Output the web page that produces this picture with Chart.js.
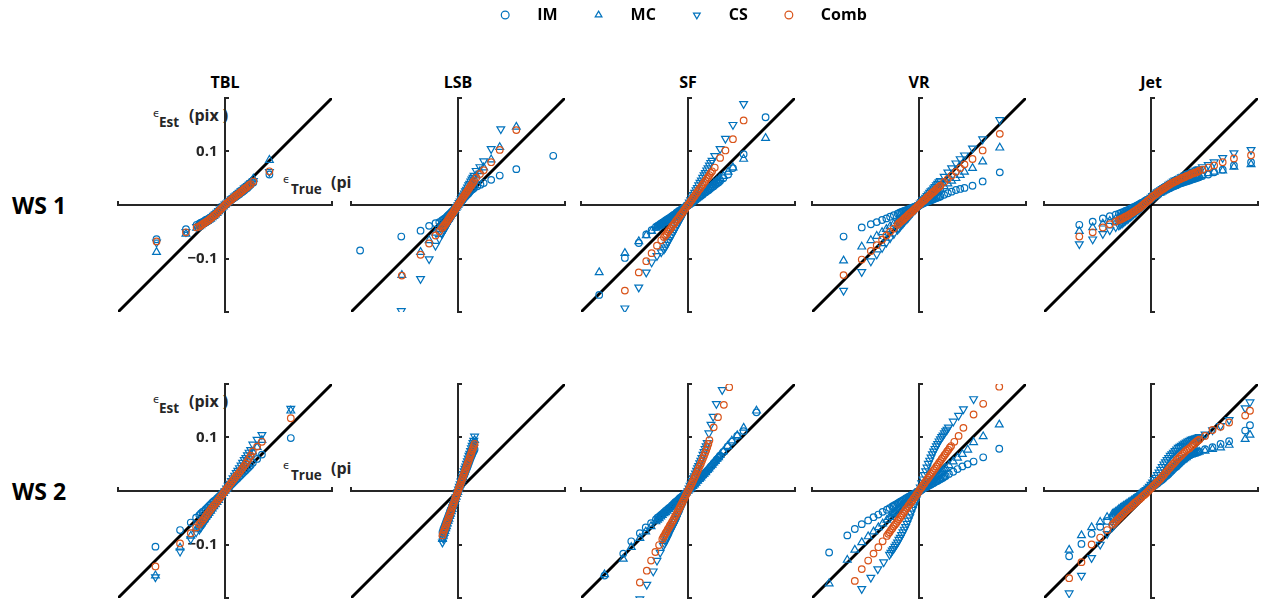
<!DOCTYPE html>
<html>
<head>
<meta charset="utf-8">
<title>Estimated vs. true error quantiles</title>
<script src="https://cdn.jsdelivr.net/npm/chart.js"></script>
<style>
html,body{margin:0;padding:0;background:#fff;}
#fig{position:relative;width:1262px;height:609px;overflow:hidden;background:#fff;font-family:'Open Sans',sans-serif;}
#fig canvas{position:absolute;}
.t{position:absolute;white-space:nowrap;line-height:1;}
.title{font-size:16px;font-weight:700;color:#000;transform:translateX(-50%);}
.row{font-size:23px;font-weight:700;color:#000;}
.eps{font-family:'DejaVu Sans',sans-serif;font-size:11px;color:#262626;}
.sub{font-size:13.5px;font-weight:700;color:#262626;}
.unit{font-size:16px;font-weight:700;color:#262626;}
.unit .close{margin-left:4px;}
.clip{position:absolute;overflow:hidden;height:30px;}
</style>
</head>
<body>
<div id="fig"></div>
<script>
// ---------------- data ----------------
const SERIES_NAMES = ['IM', 'MC', 'CS', 'Comb'];
const PANEL_TITLES = ['TBL', 'LSB', 'SF', 'VR', 'Jet'];
const ROW_LABELS = ['WS 1', 'WS 2'];
const AXIS_RANGE = [-0.2, 0.2];
const X_TICKS = [-0.2, 0.2];
const Y_TICKS = [-0.2, -0.1, 0.1, 0.2];
const Y_TICK_VALUES = [-0.1, 0.1];
const Y_TICK_LABELS = ['\u22120.1', '0.1'];

// ===== WS 1 / TBL =====
const tbl1X = [
  -0.128,-0.073,-0.053,-0.048,-0.045,-0.042,-0.039,-0.036,-0.033,-0.030,
  -0.027,-0.024,-0.021,-0.018,-0.015,-0.012,-0.009,-0.006,-0.003,0.000,
  0.003,0.006,0.009,0.012,0.015,0.018,0.021,0.024,0.027,0.030,
  0.033,0.036,0.039,0.042,0.045,0.048,0.053,0.083];
const tbl1Comb = [
  -0.068,-0.051,-0.042,-0.040,-0.038,-0.036,-0.034,-0.032,-0.030,-0.028,
  -0.025,-0.023,-0.020,-0.018,-0.015,-0.012,-0.009,-0.006,-0.003,0.000,
  0.003,0.005,0.008,0.010,0.013,0.015,0.018,0.020,0.022,0.025,
  0.027,0.030,0.032,0.034,0.037,0.039,0.044,0.063];
const tbl1IM = [
  -0.064,-0.045,-0.037,-0.035,-0.033,-0.032,-0.030,-0.028,-0.027,-0.025,
  -0.023,-0.021,-0.019,-0.016,-0.014,-0.011,-0.008,-0.006,-0.003,0.000,
  0.002,0.005,0.007,0.010,0.012,0.014,0.016,0.018,0.020,0.023,
  0.025,0.027,0.030,0.032,0.035,0.038,0.042,0.057];
const tbl1MC = [
  -0.088,-0.054,-0.043,-0.040,-0.038,-0.036,-0.034,-0.032,-0.030,-0.028,
  -0.026,-0.023,-0.021,-0.018,-0.015,-0.012,-0.009,-0.006,-0.003,0.000,
  0.003,0.006,0.009,0.011,0.014,0.017,0.019,0.022,0.024,0.027,
  0.029,0.032,0.034,0.037,0.039,0.042,0.049,0.084];
const tbl1CS = [
  -0.070,-0.050,-0.041,-0.039,-0.037,-0.035,-0.033,-0.031,-0.029,-0.027,
  -0.025,-0.022,-0.020,-0.017,-0.014,-0.011,-0.008,-0.005,-0.002,0.001,
  0.003,0.006,0.008,0.011,0.013,0.016,0.018,0.021,0.023,0.026,
  0.028,0.031,0.033,0.036,0.038,0.041,0.045,0.062];

// ===== WS 1 / LSB =====
const lsb1XIM = [
  -0.183,-0.106,-0.070,-0.054,-0.042,-0.035,-0.030,-0.028,-0.026,-0.024,
  -0.022,-0.020,-0.018,-0.016,-0.014,-0.012,-0.010,-0.008,-0.006,-0.004,
  -0.002,0.000,0.002,0.004,0.006,0.008,0.010,0.012,0.014,0.016,
  0.018,0.020,0.022,0.024,0.026,0.028,0.030,0.036,0.042,0.048,
  0.062,0.078,0.109,0.178];
const lsb1IM = [
  -0.085,-0.059,-0.048,-0.039,-0.034,-0.032,-0.029,-0.028,-0.026,-0.025,
  -0.023,-0.021,-0.019,-0.017,-0.015,-0.013,-0.011,-0.009,-0.006,-0.004,
  -0.002,0.000,0.002,0.005,0.007,0.009,0.011,0.014,0.016,0.018,
  0.020,0.022,0.025,0.027,0.029,0.030,0.032,0.035,0.038,0.041,
  0.047,0.055,0.067,0.092];
const lsb1X = [
  -0.105,-0.070,-0.054,-0.042,-0.035,-0.030,-0.028,-0.026,-0.024,-0.022,
  -0.020,-0.018,-0.016,-0.014,-0.012,-0.010,-0.008,-0.006,-0.004,-0.002,
  0.000,0.002,0.004,0.006,0.008,0.010,0.012,0.014,0.016,0.018,
  0.020,0.022,0.024,0.026,0.028,0.030,0.034,0.041,0.048,0.062,
  0.078,0.109];
const lsb1Comb = [
  -0.132,-0.093,-0.072,-0.057,-0.049,-0.043,-0.041,-0.038,-0.036,-0.033,
  -0.030,-0.027,-0.024,-0.021,-0.018,-0.015,-0.012,-0.009,-0.006,-0.003,
  0.000,0.003,0.006,0.009,0.012,0.015,0.018,0.021,0.024,0.027,
  0.030,0.033,0.036,0.039,0.042,0.045,0.051,0.058,0.065,0.080,
  0.103,0.140];
const lsb1MC = [
  -0.131,-0.088,-0.066,-0.052,-0.045,-0.041,-0.039,-0.036,-0.034,-0.031,
  -0.028,-0.026,-0.023,-0.020,-0.017,-0.015,-0.012,-0.009,-0.006,-0.003,
  0.000,0.003,0.006,0.010,0.013,0.016,0.019,0.022,0.026,0.029,
  0.032,0.036,0.039,0.042,0.045,0.049,0.055,0.063,0.070,0.085,
  0.108,0.146];
const lsb1XCS = [
  -0.106,-0.070,-0.054,-0.042,-0.035,-0.030,-0.028,-0.026,-0.024,-0.022,
  -0.020,-0.018,-0.016,-0.014,-0.012,-0.010,-0.008,-0.006,-0.004,-0.002,
  0.000,0.002,0.004,0.006,0.008,0.010,0.012,0.014,0.016,0.018,
  0.020,0.022,0.024,0.026,0.028,0.030,0.034,0.041,0.048,0.062,
  0.080];
const lsb1CS = [
  -0.198,-0.138,-0.101,-0.076,-0.063,-0.054,-0.050,-0.047,-0.043,-0.040,
  -0.036,-0.032,-0.029,-0.025,-0.022,-0.018,-0.014,-0.011,-0.007,-0.004,
  0.000,0.004,0.007,0.011,0.015,0.018,0.022,0.026,0.029,0.033,
  0.037,0.040,0.044,0.048,0.051,0.055,0.064,0.071,0.082,0.105,
  0.142];

// ===== WS 1 / SF =====
const sf1XA = [
  -0.166,-0.118,-0.092,-0.078,-0.068,-0.060,-0.057,-0.054,-0.051,-0.048,
  -0.045,-0.042,-0.039,-0.036,-0.033,-0.030,-0.027,-0.024,-0.021,-0.018,
  -0.015,-0.012,-0.009,-0.006,-0.003,0.000,0.003,0.006,0.009,0.012,
  0.015,0.018,0.021,0.024,0.027,0.030,0.033,0.036,0.039,0.042,
  0.045,0.048,0.051,0.054,0.057,0.060,0.066,0.075,0.084,0.104,
  0.145];
const sf1IM = [
  -0.168,-0.099,-0.071,-0.055,-0.047,-0.041,-0.039,-0.037,-0.035,-0.033,
  -0.031,-0.029,-0.027,-0.025,-0.023,-0.021,-0.019,-0.017,-0.014,-0.012,
  -0.010,-0.008,-0.006,-0.004,-0.002,0.000,0.002,0.004,0.006,0.008,
  0.010,0.013,0.015,0.017,0.019,0.022,0.024,0.026,0.028,0.031,
  0.033,0.035,0.038,0.040,0.042,0.045,0.050,0.057,0.069,0.095,
  0.164];
const sf1MC = [
  -0.126,-0.090,-0.068,-0.057,-0.049,-0.043,-0.041,-0.039,-0.037,-0.035,
  -0.033,-0.031,-0.029,-0.027,-0.024,-0.022,-0.020,-0.018,-0.015,-0.013,
  -0.011,-0.009,-0.007,-0.004,-0.002,0.000,0.002,0.005,0.007,0.010,
  0.012,0.014,0.017,0.019,0.022,0.024,0.027,0.029,0.032,0.034,
  0.037,0.040,0.042,0.045,0.047,0.050,0.054,0.062,0.070,0.086,
  0.125];
const sf1XB = [
  -0.118,-0.092,-0.078,-0.068,-0.058,-0.050,-0.045,-0.0425,-0.040,-0.0375,
  -0.035,-0.0325,-0.030,-0.0275,-0.025,-0.0225,-0.020,-0.0175,-0.015,-0.0125,
  -0.010,-0.0075,-0.005,-0.0025,0.000,0.0025,0.005,0.0075,0.010,0.0125,
  0.015,0.0175,0.020,0.0225,0.025,0.0275,0.030,0.0325,0.035,0.0375,
  0.040,0.0425,0.045,0.050,0.060,0.070,0.084,0.104];
const sf1Comb = [
  -0.160,-0.126,-0.105,-0.090,-0.076,-0.066,-0.060,-0.057,-0.054,-0.050,
  -0.047,-0.044,-0.040,-0.037,-0.034,-0.030,-0.027,-0.024,-0.020,-0.017,
  -0.014,-0.010,-0.007,-0.003,0.000,0.003,0.007,0.010,0.014,0.017,
  0.021,0.024,0.028,0.031,0.035,0.038,0.042,0.045,0.049,0.052,
  0.056,0.060,0.063,0.070,0.088,0.102,0.123,0.158];
const sf1CS = [
  -0.193,-0.154,-0.126,-0.107,-0.095,-0.088,-0.083,-0.079,-0.074,-0.069,
  -0.065,-0.060,-0.056,-0.051,-0.046,-0.042,-0.037,-0.032,-0.028,-0.023,
  -0.019,-0.014,-0.009,-0.005,0.000,0.005,0.009,0.014,0.019,0.023,
  0.028,0.032,0.037,0.042,0.046,0.051,0.056,0.060,0.065,0.069,
  0.074,0.079,0.083,0.092,0.105,0.124,0.150,0.189];

// ===== WS 1 / VR =====
const vr1X = [
  -0.141,-0.107,-0.090,-0.079,-0.069,-0.061,-0.054,-0.047,-0.040,-0.0375,
  -0.035,-0.0325,-0.030,-0.0275,-0.025,-0.0225,-0.020,-0.0175,-0.015,-0.0125,
  -0.010,-0.0075,-0.005,-0.0025,0.000,0.0025,0.005,0.0075,0.010,0.0125,
  0.015,0.0175,0.020,0.0225,0.025,0.0275,0.030,0.0325,0.035,0.0375,
  0.040,0.047,0.054,0.061,0.069,0.077,0.085,0.100,0.119,0.151];
const vr1IM = [
  -0.059,-0.042,-0.036,-0.032,-0.028,-0.025,-0.022,-0.019,-0.016,-0.015,
  -0.014,-0.013,-0.012,-0.011,-0.010,-0.009,-0.008,-0.007,-0.006,-0.005,
  -0.004,-0.003,-0.002,-0.001,0.000,0.001,0.002,0.003,0.004,0.005,
  0.006,0.007,0.008,0.009,0.010,0.011,0.012,0.013,0.014,0.015,
  0.016,0.019,0.022,0.025,0.028,0.030,0.032,0.036,0.044,0.061];
const vr1MC = [
  -0.104,-0.078,-0.066,-0.058,-0.051,-0.045,-0.040,-0.035,-0.030,-0.028,
  -0.026,-0.024,-0.022,-0.020,-0.018,-0.017,-0.015,-0.013,-0.011,-0.009,
  -0.007,-0.006,-0.004,-0.002,0.000,0.002,0.004,0.006,0.007,0.009,
  0.011,0.013,0.015,0.017,0.018,0.020,0.022,0.024,0.026,0.028,
  0.030,0.035,0.040,0.045,0.050,0.056,0.062,0.069,0.081,0.107];
const vr1Comb = [
  -0.131,-0.102,-0.086,-0.075,-0.065,-0.057,-0.050,-0.044,-0.037,-0.034,
  -0.032,-0.030,-0.028,-0.025,-0.023,-0.021,-0.018,-0.016,-0.014,-0.012,
  -0.009,-0.007,-0.005,-0.002,0.000,0.002,0.005,0.007,0.009,0.011,
  0.014,0.016,0.018,0.021,0.023,0.025,0.027,0.030,0.032,0.034,
  0.036,0.043,0.049,0.055,0.062,0.069,0.076,0.086,0.102,0.133];
const vr1CS = [
  -0.160,-0.125,-0.105,-0.092,-0.080,-0.070,-0.062,-0.054,-0.046,-0.043,
  -0.040,-0.037,-0.034,-0.031,-0.028,-0.026,-0.023,-0.020,-0.017,-0.014,
  -0.011,-0.009,-0.006,-0.003,0.000,0.003,0.006,0.009,0.011,0.014,
  0.017,0.020,0.023,0.026,0.028,0.031,0.034,0.037,0.040,0.043,
  0.045,0.053,0.061,0.069,0.078,0.086,0.093,0.106,0.123,0.159];

// ===== WS 1 / Jet =====
const jet1X = [
  -0.134,-0.109,-0.090,-0.077,-0.066,-0.060,-0.057,-0.054,-0.051,-0.048,
  -0.045,-0.042,-0.039,-0.036,-0.033,-0.030,-0.027,-0.024,-0.021,-0.018,
  -0.015,-0.012,-0.009,-0.006,-0.003,0.000,0.003,0.006,0.009,0.012,
  0.015,0.018,0.021,0.024,0.027,0.030,0.033,0.036,0.039,0.042,
  0.045,0.048,0.051,0.054,0.057,0.060,0.063,0.066,0.069,0.072,
  0.075,0.078,0.081,0.084,0.087,0.090,0.096,0.107,0.118,0.134,
  0.155,0.187];
const jet1Comb = [
  -0.059,-0.051,-0.042,-0.036,-0.031,-0.028,-0.027,-0.025,-0.024,-0.022,
  -0.021,-0.019,-0.017,-0.015,-0.013,-0.011,-0.009,-0.007,-0.005,-0.002,
  0.000,0.003,0.005,0.008,0.010,0.013,0.016,0.018,0.020,0.023,
  0.025,0.027,0.029,0.031,0.033,0.035,0.037,0.039,0.041,0.042,
  0.044,0.045,0.047,0.048,0.050,0.051,0.052,0.054,0.055,0.056,
  0.058,0.059,0.060,0.061,0.062,0.064,0.066,0.070,0.074,0.080,
  0.087,0.093];
const jet1IM = [
  -0.037,-0.031,-0.025,-0.021,-0.018,-0.016,-0.015,-0.014,-0.013,-0.011,
  -0.010,-0.009,-0.007,-0.006,-0.004,-0.003,-0.001,0.000,0.002,0.004,
  0.005,0.007,0.009,0.010,0.012,0.014,0.016,0.018,0.019,0.021,
  0.022,0.024,0.025,0.027,0.028,0.030,0.031,0.032,0.034,0.035,
  0.036,0.037,0.039,0.040,0.041,0.042,0.043,0.044,0.045,0.046,
  0.047,0.048,0.049,0.050,0.051,0.052,0.054,0.057,0.061,0.066,
  0.074,0.080];
const jet1MC = [
  -0.049,-0.042,-0.035,-0.030,-0.026,-0.024,-0.022,-0.021,-0.019,-0.018,
  -0.016,-0.015,-0.013,-0.011,-0.009,-0.008,-0.006,-0.004,-0.002,0.000,
  0.002,0.004,0.006,0.008,0.010,0.012,0.014,0.016,0.018,0.020,
  0.022,0.023,0.025,0.027,0.028,0.030,0.032,0.033,0.035,0.036,
  0.038,0.039,0.040,0.042,0.043,0.044,0.045,0.046,0.047,0.048,
  0.049,0.050,0.051,0.052,0.053,0.054,0.056,0.059,0.062,0.064,
  0.071,0.076];
const jet1CS = [
  -0.073,-0.064,-0.054,-0.047,-0.041,-0.038,-0.036,-0.034,-0.032,-0.029,
  -0.027,-0.025,-0.022,-0.020,-0.017,-0.015,-0.012,-0.009,-0.007,-0.004,
  -0.001,0.002,0.005,0.008,0.011,0.014,0.017,0.019,0.022,0.024,
  0.026,0.028,0.030,0.032,0.034,0.036,0.038,0.040,0.042,0.044,
  0.046,0.047,0.049,0.050,0.052,0.053,0.055,0.056,0.058,0.059,
  0.060,0.062,0.063,0.065,0.066,0.067,0.071,0.075,0.080,0.088,
  0.097,0.103];

// ===== WS 2 / TBL =====
const tbl2X = [
  -0.130,-0.084,-0.064,-0.054,-0.048,-0.045,-0.042,-0.039,-0.036,-0.033,
  -0.030,-0.027,-0.024,-0.021,-0.018,-0.015,-0.012,-0.009,-0.006,-0.003,
  0.000,0.003,0.006,0.009,0.012,0.015,0.018,0.021,0.024,0.027,
  0.030,0.033,0.036,0.039,0.042,0.045,0.048,0.052,0.060,0.069,
  0.123];
const tbl2Comb = [
  -0.141,-0.098,-0.079,-0.068,-0.062,-0.058,-0.055,-0.051,-0.047,-0.043,
  -0.039,-0.035,-0.031,-0.027,-0.024,-0.020,-0.016,-0.012,-0.008,-0.004,
  0.000,0.004,0.008,0.012,0.016,0.020,0.024,0.028,0.031,0.035,
  0.039,0.043,0.047,0.051,0.056,0.061,0.066,0.074,0.083,0.092,
  0.136];
const tbl2IM = [
  -0.104,-0.073,-0.059,-0.050,-0.045,-0.042,-0.039,-0.037,-0.034,-0.031,
  -0.028,-0.025,-0.022,-0.019,-0.017,-0.014,-0.011,-0.008,-0.005,-0.002,
  0.000,0.003,0.006,0.009,0.012,0.015,0.018,0.021,0.024,0.027,
  0.030,0.033,0.036,0.039,0.042,0.045,0.048,0.053,0.060,0.068,
  0.099];
const tbl2MC = [
  -0.158,-0.106,-0.084,-0.072,-0.065,-0.061,-0.057,-0.053,-0.049,-0.045,
  -0.041,-0.037,-0.033,-0.029,-0.025,-0.021,-0.017,-0.012,-0.008,-0.004,
  0.000,0.004,0.008,0.013,0.017,0.021,0.025,0.029,0.034,0.038,
  0.042,0.046,0.050,0.055,0.059,0.064,0.068,0.073,0.082,0.095,
  0.150];
const tbl2CS = [
  -0.161,-0.113,-0.090,-0.077,-0.072,-0.068,-0.063,-0.059,-0.054,-0.050,
  -0.045,-0.041,-0.036,-0.032,-0.027,-0.023,-0.018,-0.014,-0.009,-0.005,
  0.000,0.005,0.010,0.014,0.019,0.024,0.029,0.034,0.038,0.043,
  0.048,0.053,0.058,0.062,0.067,0.072,0.077,0.087,0.096,0.105,
  0.154];

// ===== WS 2 / LSB =====
const lsb2X = [
  -0.029,-0.0275,-0.026,-0.0245,-0.023,-0.0215,-0.020,-0.0185,-0.017,-0.0155,
  -0.014,-0.0125,-0.011,-0.0095,-0.008,-0.0065,-0.005,-0.0035,-0.002,-0.0005,
  0.001,0.0025,0.004,0.0055,0.007,0.0085,0.010,0.0115,0.013,0.0145,
  0.016,0.0175,0.019,0.0205,0.022,0.0235,0.025,0.0265,0.028,0.0295,
  0.031];
const lsb2Comb = [
  -0.083,-0.078,-0.074,-0.070,-0.066,-0.061,-0.057,-0.053,-0.048,-0.044,
  -0.040,-0.036,-0.031,-0.027,-0.023,-0.019,-0.014,-0.010,-0.006,-0.001,
  0.003,0.007,0.011,0.016,0.020,0.024,0.029,0.033,0.037,0.041,
  0.046,0.050,0.054,0.058,0.063,0.067,0.071,0.076,0.080,0.084,
  0.088];
const lsb2IM = [
  -0.077,-0.072,-0.068,-0.064,-0.060,-0.056,-0.052,-0.048,-0.044,-0.040,
  -0.036,-0.033,-0.029,-0.025,-0.021,-0.017,-0.013,-0.009,-0.005,-0.001,
  0.003,0.007,0.010,0.014,0.018,0.022,0.026,0.030,0.034,0.038,
  0.042,0.045,0.049,0.053,0.057,0.061,0.065,0.068,0.072,0.075,
  0.078];
const lsb2MC = [
  -0.090,-0.084,-0.079,-0.075,-0.070,-0.066,-0.061,-0.056,-0.052,-0.047,
  -0.043,-0.038,-0.034,-0.029,-0.024,-0.020,-0.015,-0.011,-0.006,-0.002,
  0.003,0.008,0.012,0.017,0.021,0.026,0.031,0.035,0.040,0.044,
  0.049,0.053,0.058,0.063,0.067,0.072,0.076,0.081,0.085,0.090,
  0.095];
const lsb2CS = [
  -0.096,-0.089,-0.084,-0.079,-0.074,-0.069,-0.064,-0.059,-0.054,-0.050,
  -0.045,-0.040,-0.035,-0.030,-0.026,-0.021,-0.016,-0.011,-0.006,-0.002,
  0.003,0.008,0.013,0.018,0.022,0.027,0.032,0.037,0.042,0.046,
  0.051,0.056,0.061,0.066,0.070,0.075,0.080,0.085,0.090,0.094,
  0.102];

// ===== WS 2 / SF =====
const sf2XA = [
  -0.156,-0.121,-0.106,-0.090,-0.079,-0.069,-0.060,-0.057,-0.054,-0.051,
  -0.048,-0.045,-0.042,-0.039,-0.036,-0.033,-0.030,-0.027,-0.024,-0.021,
  -0.018,-0.015,-0.012,-0.009,-0.006,-0.003,0.000,0.003,0.006,0.009,
  0.012,0.015,0.018,0.021,0.024,0.027,0.030,0.033,0.036,0.039,
  0.042,0.045,0.048,0.051,0.054,0.057,0.060,0.066,0.074,0.082,
  0.092,0.104,0.128];
const sf2IM = [
  -0.158,-0.117,-0.094,-0.079,-0.068,-0.060,-0.053,-0.050,-0.048,-0.045,
  -0.043,-0.040,-0.037,-0.035,-0.032,-0.030,-0.027,-0.024,-0.021,-0.019,
  -0.016,-0.013,-0.011,-0.008,-0.005,-0.003,0.000,0.003,0.006,0.009,
  0.012,0.015,0.019,0.022,0.025,0.028,0.031,0.035,0.038,0.041,
  0.045,0.048,0.052,0.055,0.059,0.062,0.066,0.073,0.083,0.092,
  0.103,0.112,0.147];
const sf2MC = [
  -0.156,-0.127,-0.105,-0.088,-0.076,-0.066,-0.057,-0.054,-0.051,-0.048,
  -0.045,-0.042,-0.040,-0.037,-0.034,-0.031,-0.028,-0.025,-0.022,-0.019,
  -0.017,-0.014,-0.011,-0.008,-0.005,-0.003,0.000,0.003,0.006,0.009,
  0.012,0.015,0.019,0.022,0.025,0.029,0.032,0.035,0.039,0.042,
  0.046,0.049,0.053,0.056,0.060,0.063,0.067,0.074,0.084,0.094,
  0.104,0.118,0.150];
const sf2XComb = [
  -0.090,-0.077,-0.069,-0.061,-0.054,-0.048,-0.046,-0.044,-0.042,-0.040,
  -0.038,-0.036,-0.034,-0.032,-0.030,-0.028,-0.026,-0.024,-0.022,-0.020,
  -0.018,-0.016,-0.014,-0.012,-0.010,-0.008,-0.006,-0.004,-0.002,0.000,
  0.002,0.004,0.006,0.008,0.010,0.012,0.014,0.016,0.018,0.020,
  0.022,0.024,0.026,0.028,0.030,0.032,0.034,0.036,0.038,0.040,
  0.048,0.056,0.067,0.077];
const sf2Comb = [
  -0.171,-0.149,-0.130,-0.114,-0.101,-0.090,-0.086,-0.083,-0.079,-0.076,
  -0.072,-0.069,-0.065,-0.062,-0.058,-0.055,-0.051,-0.047,-0.044,-0.040,
  -0.036,-0.032,-0.028,-0.024,-0.020,-0.016,-0.012,-0.008,-0.004,0.000,
  0.004,0.008,0.012,0.016,0.020,0.025,0.029,0.033,0.038,0.042,
  0.047,0.051,0.056,0.061,0.066,0.071,0.076,0.082,0.088,0.095,
  0.119,0.138,0.161,0.194];
const sf2XCS = [
  -0.090,-0.077,-0.065,-0.058,-0.052,-0.046,-0.044,-0.042,-0.040,-0.038,
  -0.036,-0.034,-0.032,-0.030,-0.028,-0.026,-0.024,-0.022,-0.020,-0.018,
  -0.016,-0.014,-0.012,-0.010,-0.008,-0.006,-0.004,-0.002,0.000,0.002,
  0.004,0.006,0.008,0.010,0.012,0.014,0.016,0.018,0.020,0.022,
  0.024,0.026,0.028,0.030,0.032,0.034,0.036,0.039,0.043,0.047,
  0.053,0.064];
const sf2CS = [
  -0.202,-0.175,-0.150,-0.130,-0.115,-0.102,-0.098,-0.094,-0.090,-0.086,
  -0.081,-0.077,-0.073,-0.069,-0.065,-0.061,-0.057,-0.052,-0.047,-0.043,
  -0.038,-0.033,-0.029,-0.024,-0.019,-0.014,-0.010,-0.005,0.000,0.005,
  0.010,0.014,0.019,0.024,0.028,0.033,0.038,0.043,0.047,0.052,
  0.057,0.062,0.068,0.073,0.079,0.084,0.090,0.108,0.124,0.139,
  0.163,0.189];

// ===== WS 2 / VR =====
const vr2XA = [
  -0.168,-0.134,-0.120,-0.107,-0.095,-0.085,-0.076,-0.068,-0.060,-0.055,
  -0.050,-0.0475,-0.045,-0.0425,-0.040,-0.0375,-0.035,-0.0325,-0.030,-0.0275,
  -0.025,-0.0225,-0.020,-0.0175,-0.015,-0.0125,-0.010,-0.0075,-0.005,-0.0025,
  0.000,0.0025,0.005,0.0075,0.010,0.0125,0.015,0.0175,0.020,0.0225,
  0.025,0.0275,0.030,0.0325,0.035,0.0375,0.040,0.0425,0.045,0.0475,
  0.050,0.056,0.064,0.072,0.081,0.091,0.102,0.120,0.150];
const vr2IM = [
  -0.115,-0.083,-0.071,-0.062,-0.055,-0.049,-0.044,-0.039,-0.035,-0.032,
  -0.029,-0.028,-0.026,-0.025,-0.023,-0.022,-0.020,-0.019,-0.017,-0.016,
  -0.014,-0.013,-0.011,-0.010,-0.008,-0.007,-0.006,-0.004,-0.003,-0.001,
  0.000,0.001,0.003,0.004,0.006,0.007,0.008,0.010,0.011,0.012,
  0.014,0.015,0.017,0.018,0.019,0.021,0.022,0.024,0.025,0.027,
  0.028,0.032,0.036,0.041,0.046,0.050,0.055,0.063,0.079];
const vr2MC = [
  -0.173,-0.129,-0.110,-0.096,-0.085,-0.076,-0.068,-0.061,-0.054,-0.049,
  -0.044,-0.042,-0.040,-0.037,-0.035,-0.033,-0.031,-0.028,-0.026,-0.024,
  -0.022,-0.020,-0.017,-0.015,-0.013,-0.011,-0.009,-0.006,-0.004,-0.002,
  0.000,0.002,0.004,0.006,0.009,0.011,0.013,0.015,0.017,0.019,
  0.021,0.024,0.026,0.028,0.030,0.032,0.034,0.036,0.038,0.041,
  0.043,0.048,0.055,0.062,0.069,0.077,0.091,0.102,0.124];
const vr2XComb = [
  -0.120,-0.107,-0.095,-0.085,-0.076,-0.068,-0.060,-0.0575,-0.055,-0.0525,
  -0.050,-0.0475,-0.045,-0.0425,-0.040,-0.0375,-0.035,-0.0325,-0.030,-0.0275,
  -0.025,-0.0225,-0.020,-0.0175,-0.015,-0.0125,-0.010,-0.0075,-0.005,-0.0025,
  0.000,0.0025,0.005,0.0075,0.010,0.0125,0.015,0.0175,0.020,0.0225,
  0.025,0.0275,0.030,0.0325,0.035,0.0375,0.040,0.0425,0.045,0.0475,
  0.050,0.0525,0.055,0.0575,0.060,0.066,0.074,0.083,0.102,0.120,
  0.150];
const vr2Comb = [
  -0.168,-0.146,-0.130,-0.117,-0.105,-0.094,-0.084,-0.080,-0.077,-0.073,
  -0.070,-0.066,-0.063,-0.060,-0.056,-0.053,-0.049,-0.046,-0.042,-0.039,
  -0.035,-0.032,-0.028,-0.025,-0.021,-0.018,-0.014,-0.011,-0.007,-0.004,
  0.000,0.004,0.007,0.011,0.014,0.018,0.021,0.025,0.028,0.032,
  0.035,0.039,0.042,0.046,0.049,0.053,0.056,0.060,0.063,0.067,
  0.070,0.074,0.077,0.081,0.084,0.092,0.103,0.118,0.143,0.163,
  0.195];
const vr2XCS = [
  -0.107,-0.090,-0.077,-0.066,-0.055,-0.0525,-0.050,-0.0475,-0.045,-0.0425,
  -0.040,-0.0375,-0.035,-0.0325,-0.030,-0.0275,-0.025,-0.0225,-0.020,-0.0175,
  -0.015,-0.0125,-0.010,-0.0075,-0.005,-0.0025,0.000,0.0025,0.005,0.0075,
  0.010,0.0125,0.015,0.0175,0.020,0.0225,0.025,0.0275,0.030,0.0325,
  0.035,0.0375,0.040,0.0425,0.045,0.0475,0.050,0.0525,0.055,0.064,
  0.074,0.083,0.102];
const vr2CS = [
  -0.183,-0.162,-0.146,-0.133,-0.119,-0.115,-0.111,-0.108,-0.104,-0.100,
  -0.096,-0.091,-0.087,-0.082,-0.077,-0.072,-0.067,-0.061,-0.055,-0.049,
  -0.042,-0.035,-0.029,-0.022,-0.015,-0.007,0.000,0.007,0.015,0.022,
  0.030,0.037,0.044,0.051,0.057,0.063,0.069,0.074,0.079,0.084,
  0.088,0.093,0.097,0.101,0.104,0.108,0.112,0.115,0.119,0.130,
  0.141,0.153,0.172];

// ===== WS 2 / Jet =====
const jet2X = [
  -0.153,-0.130,-0.111,-0.095,-0.082,-0.072,-0.069,-0.066,-0.063,-0.060,
  -0.057,-0.054,-0.051,-0.048,-0.045,-0.042,-0.039,-0.036,-0.033,-0.030,
  -0.027,-0.024,-0.021,-0.018,-0.015,-0.012,-0.009,-0.006,-0.003,0.000,
  0.003,0.006,0.009,0.012,0.015,0.018,0.021,0.024,0.027,0.030,
  0.033,0.036,0.039,0.042,0.045,0.048,0.051,0.054,0.057,0.060,
  0.063,0.066,0.069,0.072,0.075,0.078,0.081,0.084,0.087,0.090,
  0.101,0.115,0.130,0.146,0.176,0.185];
const jet2Comb = [
  -0.163,-0.133,-0.100,-0.087,-0.073,-0.063,-0.060,-0.057,-0.054,-0.051,
  -0.048,-0.045,-0.042,-0.039,-0.036,-0.033,-0.031,-0.028,-0.025,-0.022,
  -0.020,-0.017,-0.015,-0.012,-0.009,-0.007,-0.004,-0.001,0.002,0.005,
  0.008,0.011,0.014,0.017,0.020,0.023,0.027,0.030,0.034,0.037,
  0.041,0.044,0.048,0.051,0.054,0.058,0.061,0.064,0.067,0.070,
  0.073,0.076,0.078,0.080,0.083,0.086,0.089,0.092,0.094,0.096,
  0.103,0.114,0.120,0.128,0.141,0.150];
const jet2IM = [
  -0.122,-0.099,-0.080,-0.067,-0.056,-0.049,-0.047,-0.045,-0.042,-0.040,
  -0.038,-0.035,-0.033,-0.031,-0.029,-0.026,-0.024,-0.022,-0.019,-0.017,
  -0.015,-0.013,-0.010,-0.008,-0.006,-0.003,-0.001,0.002,0.004,0.006,
  0.008,0.010,0.012,0.014,0.017,0.019,0.021,0.024,0.027,0.029,
  0.032,0.035,0.038,0.041,0.044,0.046,0.049,0.052,0.055,0.058,
  0.060,0.063,0.065,0.067,0.069,0.070,0.071,0.072,0.073,0.074,
  0.078,0.082,0.088,0.093,0.113,0.123];
const jet2MC = [
  -0.110,-0.083,-0.068,-0.058,-0.049,-0.043,-0.041,-0.039,-0.037,-0.034,
  -0.032,-0.030,-0.028,-0.026,-0.024,-0.022,-0.020,-0.018,-0.016,-0.014,
  -0.012,-0.010,-0.007,-0.005,-0.003,-0.001,0.002,0.004,0.006,0.008,
  0.010,0.013,0.015,0.018,0.021,0.023,0.026,0.029,0.031,0.034,
  0.037,0.040,0.043,0.046,0.049,0.051,0.053,0.055,0.057,0.059,
  0.061,0.063,0.065,0.067,0.068,0.069,0.070,0.071,0.072,0.073,
  0.075,0.078,0.081,0.086,0.097,0.105];
const jet2CS = [
  -0.191,-0.158,-0.125,-0.100,-0.080,-0.067,-0.063,-0.059,-0.055,-0.051,
  -0.047,-0.044,-0.040,-0.037,-0.034,-0.030,-0.027,-0.024,-0.020,-0.017,
  -0.014,-0.011,-0.009,-0.006,-0.003,0.000,0.002,0.005,0.008,0.012,
  0.016,0.021,0.025,0.030,0.035,0.040,0.045,0.050,0.054,0.058,
  0.062,0.066,0.069,0.072,0.075,0.078,0.081,0.083,0.085,0.087,
  0.089,0.091,0.093,0.094,0.096,0.097,0.098,0.099,0.100,0.101,
  0.106,0.114,0.122,0.133,0.155,0.166];

// panel -> series (true-error quantiles, estimated-error quantiles)
const PANELS = [
  {row:0, col:0, IM:[tbl1X,tbl1IM], MC:[tbl1X,tbl1MC], CS:[tbl1X,tbl1CS], Comb:[tbl1X,tbl1Comb]},
  {row:0, col:1, IM:[lsb1XIM,lsb1IM], MC:[lsb1X,lsb1MC], CS:[lsb1XCS,lsb1CS], Comb:[lsb1X,lsb1Comb]},
  {row:0, col:2, IM:[sf1XA,sf1IM], MC:[sf1XA,sf1MC], CS:[sf1XB,sf1CS], Comb:[sf1XB,sf1Comb]},
  {row:0, col:3, IM:[vr1X,vr1IM], MC:[vr1X,vr1MC], CS:[vr1X,vr1CS], Comb:[vr1X,vr1Comb]},
  {row:0, col:4, IM:[jet1X,jet1IM], MC:[jet1X,jet1MC], CS:[jet1X,jet1CS], Comb:[jet1X,jet1Comb]},
  {row:1, col:0, IM:[tbl2X,tbl2IM], MC:[tbl2X,tbl2MC], CS:[tbl2X,tbl2CS], Comb:[tbl2X,tbl2Comb]},
  {row:1, col:1, IM:[lsb2X,lsb2IM], MC:[lsb2X,lsb2MC], CS:[lsb2X,lsb2CS], Comb:[lsb2X,lsb2Comb]},
  {row:1, col:2, IM:[sf2XA,sf2IM], MC:[sf2XA,sf2MC], CS:[sf2XCS,sf2CS], Comb:[sf2XComb,sf2Comb]},
  {row:1, col:3, IM:[vr2XA,vr2IM], MC:[vr2XA,vr2MC], CS:[vr2XCS,vr2CS], Comb:[vr2XComb,vr2Comb]},
  {row:1, col:4, IM:[jet2X,jet2IM], MC:[jet2X,jet2MC], CS:[jet2X,jet2CS], Comb:[jet2X,jet2Comb]}
];

// ---------------- layout & style ----------------
const BOX = 214;              // plot square (px)
const PAD = 8;                // canvas margin round the plot square
const COL_LEFT = [118, 351, 581, 812, 1044];
const ROW_TOP = [98, 384];
const BLUE = '#0072BD', ORANGE = '#D95319', AXIS = '#262626';
const MARKERS = {
  IM:   {color: BLUE,   pointStyle: 'circle',   radius: 3.3, rotation: 0},
  MC:   {color: BLUE,   pointStyle: 'triangle', radius: 4.5, rotation: 0},
  CS:   {color: BLUE,   pointStyle: 'triangle', radius: 4.5, rotation: 180},
  Comb: {color: ORANGE, pointStyle: 'circle',   radius: 3.3, rotation: 0}
};

Chart.defaults.font.family = "'Open Sans', sans-serif";
Chart.defaults.animation = false;

const fig = document.getElementById('fig');

function addText(cls, text, left, top, parent) {
  const el = document.createElement('div');
  el.className = 't ' + cls;
  el.textContent = text;
  el.style.left = left + 'px';
  el.style.top = top + 'px';
  (parent || fig).appendChild(el);
  return el;
}

// unit label whose closing bracket sits on the far side of the y axis
function addUnit(left, top) {
  const el = addText('unit', '(pix', left, top);
  const close = document.createElement('span');
  close.className = 'close';
  close.textContent = ')';
  el.appendChild(close);
  return el;
}

function toPoints(xs, ys) {
  const n = Math.min(xs.length, ys.length);
  const out = [];
  for (let i = 0; i < n; i++) out.push({x: xs[i], y: ys[i]});
  return out;
}

function markerDataset(name, pts) {
  const m = MARKERS[name];
  return {
    label: name,
    data: pts,
    showLine: false,
    pointStyle: m.pointStyle,
    pointRotation: m.rotation,
    pointRadius: m.radius,
    pointHoverRadius: m.radius,
    pointBorderWidth: 1.2,
    pointBorderColor: m.color,
    pointBackgroundColor: 'rgba(0,0,0,0)',
    borderColor: m.color,
    backgroundColor: 'rgba(0,0,0,0)'
  };
}

function tickLabel(v) {
  for (let i = 0; i < Y_TICK_VALUES.length; i++) {
    if (Math.abs(v - Y_TICK_VALUES[i]) < 1e-9) return Y_TICK_LABELS[i] + '\u2002';
  }
  return '';
}

// ---------------- text ----------------
ROW_LABELS.forEach((lab, r) => {
  const cy = ROW_TOP[r] + BOX / 2;
  addText('row', lab, 12, cy - 11);
  const cx = COL_LEFT[0] + BOX / 2;
  // y-axis label
  addText('eps', '\u03F5', cx - 72, cy - 97);
  addText('sub', 'Est', cx - 66, cy - 89.5);
  addUnit(cx - 36, cy - 98.5);
  // x-axis label, cut off by the neighbouring plot
  const clip = document.createElement('div');
  clip.className = 'clip';
  clip.style.left = (cx + 55) + 'px';
  clip.style.top = (cy - 35) + 'px';
  clip.style.width = (COL_LEFT[1] - (cx + 55)) + 'px';
  fig.appendChild(clip);
  addText('eps', '\u03F5', 3, 4, clip);
  addText('sub', 'True', 11, 12.5, clip);
  addText('unit', '(pix)', 51, 3.5, clip);
});
PANEL_TITLES.forEach((t, c) => addText('title', t, COL_LEFT[c] + BOX / 2, 74));

// ---------------- legend ----------------
const legendCanvas = document.createElement('canvas');
legendCanvas.width = 1100; legendCanvas.height = 100;
legendCanvas.style.left = '132px'; legendCanvas.style.top = '-26px';
fig.appendChild(legendCanvas);
new Chart(legendCanvas, {
  type: 'scatter',
  data: {datasets: SERIES_NAMES.map(n => Object.assign(markerDataset(n, []), {label: '\u2003' + n}))},
  options: {
    responsive: false, events: [], layout: {padding: 0},
    scales: {x: {display: false}, y: {display: false}},
    plugins: {
      tooltip: {enabled: false},
      legend: {
        display: true, position: 'top', align: 'center',
        labels: {usePointStyle: true, boxWidth: 16, boxHeight: 5.5, padding: 33, color: '#000',
                 font: {family: "'Open Sans', sans-serif", size: 16, weight: 'bold'}}
      }
    }
  }
});

// ---------------- panels ----------------
PANELS.forEach(p => {
  const cv = document.createElement('canvas');
  cv.width = BOX + 2 * PAD; cv.height = BOX + 2 * PAD;
  cv.style.left = (COL_LEFT[p.col] - PAD) + 'px';
  cv.style.top = (ROW_TOP[p.row] - PAD) + 'px';
  fig.appendChild(cv);

  // drawing order: last dataset is painted first
  const datasets = ['Comb', 'CS', 'MC', 'IM'].map(n => markerDataset(n, toPoints(p[n][0], p[n][1])));
  datasets.push({
    label: 'identity',
    data: AXIS_RANGE.map(v => ({x: v, y: v})),
    showLine: true, borderColor: '#000', borderWidth: 3, pointRadius: 0, pointHoverRadius: 0, fill: false
  });

  const labelled = p.col === 0;
  new Chart(cv, {
    type: 'scatter',
    data: {datasets},
    options: {
      responsive: false, events: [],
      layout: {padding: PAD},
      plugins: {legend: {display: false}, tooltip: {enabled: false}},
      scales: {
        x: {
          type: 'linear', min: AXIS_RANGE[0], max: AXIS_RANGE[1],
          position: {y: 0},
          afterBuildTicks: s => { s.ticks = X_TICKS.map(v => ({value: v})); },
          grid: {display: true, drawOnChartArea: false, drawTicks: true, tickLength: -5, color: AXIS, lineWidth: 2},
          border: {display: true, color: AXIS, width: 2},
          ticks: {display: false}
        },
        y: {
          type: 'linear', min: AXIS_RANGE[0], max: AXIS_RANGE[1],
          position: {x: 0},
          afterBuildTicks: s => { s.ticks = Y_TICKS.map(v => ({value: v})); },
          grid: {display: true, drawOnChartArea: false, drawTicks: true, tickLength: -5, color: AXIS, lineWidth: 2},
          border: {display: true, color: AXIS, width: 2},
          ticks: {
            display: labelled, padding: 0, color: AXIS,
            font: {family: "'Open Sans', sans-serif", size: 15, weight: 'bold', lineHeight: 1},
            callback: v => tickLabel(v)
          }
        }
      }
    }
  });
});
</script>
</body>
</html>
